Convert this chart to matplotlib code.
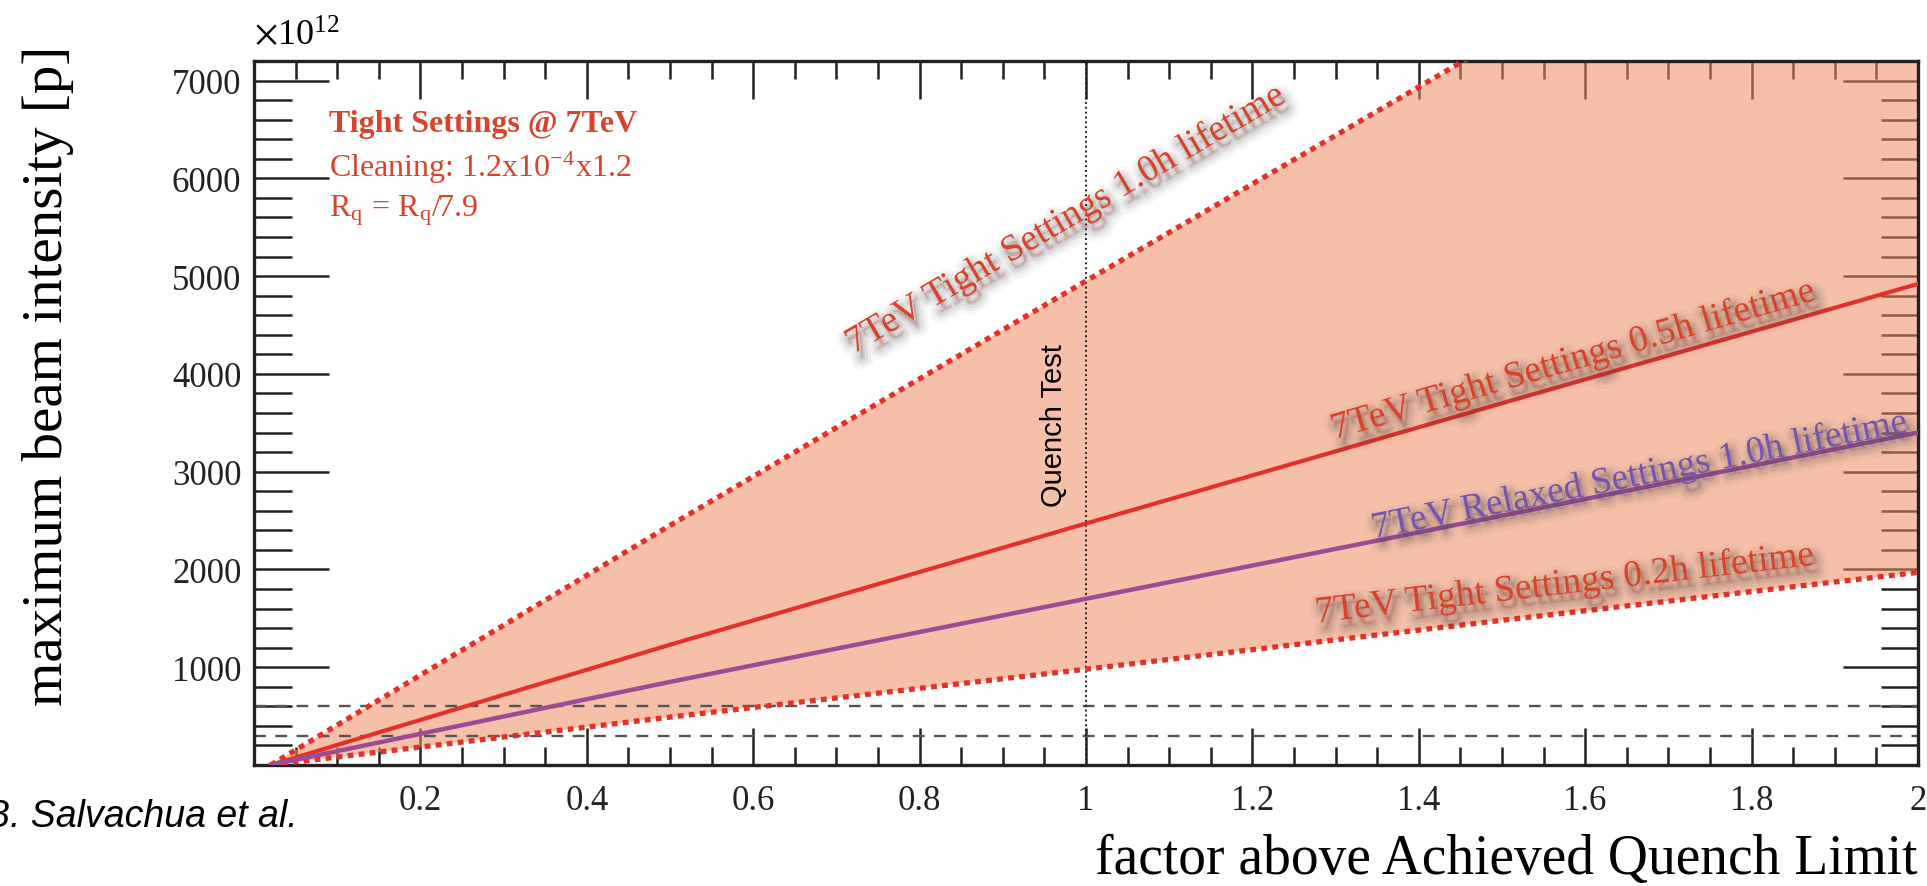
import numpy as np
import matplotlib
matplotlib.use("Agg")
import matplotlib.pyplot as plt
import matplotlib.patheffects as pe
from matplotlib.ticker import MultipleLocator, FixedLocator

# values (beam intensity in units of 1e12 p)
factor = [0.02, 0.5, 1.0, 1.5, 2.0]
tight_1h = [0, 2450, 4950, 7430, 9900]
tight_05h = [0, 1230, 2470, 3700, 4920]
relaxed_1h = [0, 850, 1700, 2550, 3400]
tight_02h = [0, 490, 980, 1480, 1970]

quench_test = 1.0
ref_levels = [600, 300]

xticks = [0.2, 0.4, 0.6, 0.8, 1.0, 1.2, 1.4, 1.6, 1.8, 2.0]
xtick_labels = ["0.2", "0.4", "0.6", "0.8", "1", "1.2", "1.4", "1.6", "1.8", "2"]
yticks = [1000, 2000, 3000, 4000, 5000, 6000, 7000]
ytick_labels = ["1000", "2000", "3000", "4000", "5000", "6000", "7000"]

RED_TXT = "#d8432b"
PURPLE_TXT = "#7455b0"
RED = "#e3312a"
PURPLE = "#9c4c94"
FILL = "#f08c61"   # drawn with alpha so ticks under it turn brown

plt.rcParams["font.family"] = ["Liberation Serif", "DejaVu Serif"]
plt.rcParams["mathtext.fontset"] = "stix"

fig = plt.figure(figsize=(19.27, 8.87), dpi=100)
ax = fig.add_axes([0.1318, 0.1364, 0.9953 - 0.1318, 0.9301 - 0.1364])
ax.set_axisbelow(True)

ax.fill_between(factor, tight_02h, tight_1h, color=FILL, alpha=0.55, lw=0, zorder=1)

dots = (0, (1.1, 1.0))
ax.plot(factor, tight_1h, color=RED, lw=3.8, ls=dots, zorder=3)
ax.plot(factor, tight_02h, color=RED, lw=3.8, ls=dots, zorder=3)
ax.plot(factor, tight_05h, color=RED, lw=3.0, zorder=3)
ax.plot(factor, relaxed_1h, color=PURPLE, lw=3.2, zorder=3)

for lvl in ref_levels:
    ax.axhline(lvl, color="#555555", lw=1.7, ls=(0, (5, 4)), zorder=2)
ax.axvline(quench_test, color="#222222", lw=1.4, ls=(0, (1, 1.5)), zorder=2)

ax.text(0.962, 3480, "Quench Test", rotation=90, ha="center", va="center",
        family=["Liberation Sans"], fontsize=21, color="black")


def shadow():
    fx = []
    for w, a in [(16, 0.04), (11, 0.06), (7, 0.08), (3, 0.1)]:
        fx.append(pe.Stroke(linewidth=w, foreground="#404040", alpha=a, offset=(3, -5)))
    fx.append(pe.Normal())
    return fx


def line_label(x, y, text, xs, ys, color):
    ang = np.degrees(np.arctan2(ys[-1] - ys[1], xs[-1] - xs[1]))
    ax.text(x, y, text, rotation=ang, transform_rotates_text=True,
            rotation_mode="anchor", ha="center", va="center",
            fontsize=27, color=color, path_effects=shadow(), zorder=4)


line_label(0.975, 5580, "7TeV Tight Settings 1.0h lifetime", factor, tight_1h, RED_TXT)
line_label(1.585, 4140, "7TeV Tight Settings 0.5h lifetime", factor, tight_05h, RED_TXT)
line_label(1.665, 2960, "7TeV Relaxed Settings 1.0h lifetime", factor, relaxed_1h, PURPLE_TXT)
line_label(1.575, 1850, "7TeV Tight Settings 0.2h lifetime", factor, tight_02h, RED_TXT)

# settings box text
ax.text(0.09, 6560, "Tight Settings @ 7TeV", fontsize=23, fontweight="bold",
        color=RED_TXT, va="center")
ax.text(0.09, 6120, r"Cleaning: 1.2x10$^{\mathregular{-4}}$x1.2", fontsize=23,
        color=RED_TXT, va="center")
ax.text(0.09, 5680, r"R$_{\mathregular{q}}$ = R$_{\mathregular{q}}$/7.9", fontsize=23,
        color=RED_TXT, va="center")

ax.set_xlim(0, 2)
ax.set_ylim(0, 7200)
ax.xaxis.set_major_locator(FixedLocator(xticks))
ax.set_xticklabels(xtick_labels)
ax.yaxis.set_major_locator(FixedLocator(yticks))
ax.set_yticklabels(ytick_labels)
ax.xaxis.set_minor_locator(MultipleLocator(0.05))
ax.yaxis.set_minor_locator(MultipleLocator(200))

ax.tick_params(which="both", direction="in", top=True, right=True,
               labelsize=25, colors="#222222", width=1.8)
ax.tick_params(axis="x", which="major", length=27, pad=14)
ax.tick_params(axis="x", which="minor", length=13)
ax.tick_params(axis="y", which="major", length=54, pad=9)
ax.tick_params(axis="y", which="minor", length=27)
for s in ax.spines.values():
    s.set_linewidth(2.4)
    s.set_color("#222222")

fig.text(0.1318, 0.94, r"$\times$10$^{\mathregular{12}}$", fontsize=26, ha="left", va="bottom")
fig.text(0.025, 0.576, "maximum beam intensity [p]", rotation=90, ha="center",
         va="center", fontsize=41)
fig.text(0.9953, 0.030, "factor above Achieved Quench Limit", ha="right",
         va="center", fontsize=40)
fig.text(-0.008, 0.079, "B. Salvachua et al.", family=["Liberation Sans"],
         style="italic", fontsize=27, ha="left", va="center")

fig.savefig("out.png", dpi=100)
